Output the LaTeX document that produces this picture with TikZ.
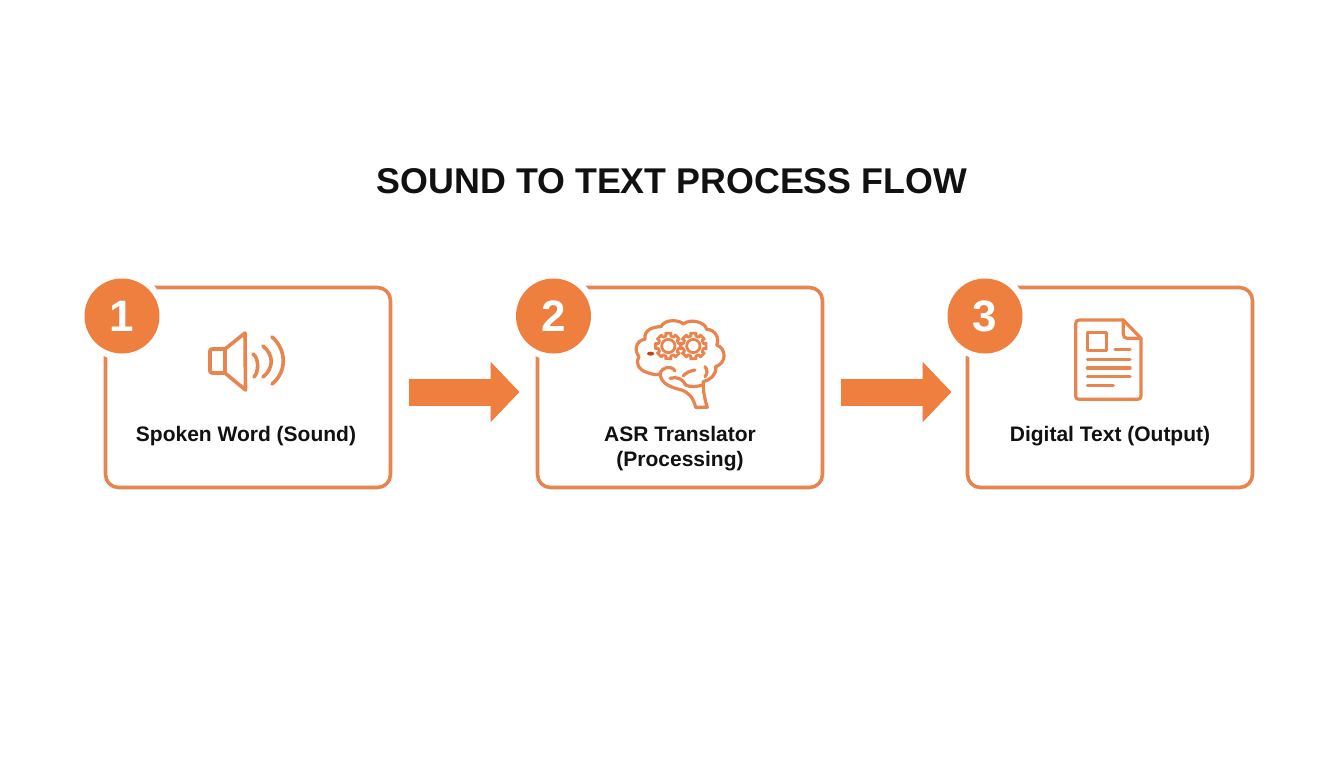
\documentclass[tikz,border=0pt]{standalone}
\usepackage{fontspec}
\setmainfont{Liberation Sans}
\usetikzlibrary{arrows.meta,positioning}
\definecolor{boxc}{HTML}{E6854F}
\definecolor{fillc}{HTML}{EE7F3E}
\definecolor{iconc}{HTML}{E8854F}
\definecolor{blot}{HTML}{B8471F}
\definecolor{inkc}{HTML}{111111}
\tikzset{
  card/.style={draw=boxc,line width=3.6pt,rounded corners=13pt,fill=white,minimum width=285pt,minimum height=200pt,inner sep=0pt,outer sep=0pt},
  ring/.style={circle,fill=white,minimum size=88pt,inner sep=0pt,outer sep=0pt},
  badge/.style={circle,fill=fillc,text=white,font=\bfseries\fontsize{44}{44}\selectfont,minimum size=75pt,inner sep=0pt,outer sep=0pt},
  label/.style={align=center,text=inkc,font=\bfseries\fontsize{21}{25}\selectfont,inner sep=0pt},
  icon/.style={draw=iconc,line width=3.6pt,line cap=round,line join=round},
  iconzoom/.style={draw=iconc,line width=3.2pt,line cap=round,line join=round},
  gearline/.style={draw=iconc,line width=2.8pt,line cap=round,line join=round},
  flow/.style={draw=fillc,line width=27pt,-{Triangle[length=29pt,width=59pt]},shorten <=18pt,shorten >=18pt}
}
\newcommand{\gearshape}[2]{%
  \begin{scope}[shift={(#1,#2)}]
  \draw[gearline] (-12:39) \foreach \i in {0,...,7}{ -- ({\i*45-12}:39) -- ({\i*45+12}:39) -- ({\i*45+13}:31) -- ({\i*45+32}:31)} -- cycle;
  \draw[gearline] (0,0) circle (20);
  \end{scope}}
\begin{document}
\begin{tikzpicture}[x=1pt,y=-1pt]
\useasboundingbox (0,0) rectangle (1344,768);
\fill[white] (0,0) rectangle (1344,768);
\node[text=inkc,font=\bfseries\fontsize{35.8}{36}\selectfont,inner sep=0pt] (title) at (672,181) {SOUND TO TEXT PROCESS FLOW};
\node[card] (box1) at (248,387.5) {};
\node[card] (box2) at (680,387.5) {};
\node[card] (box3) at (1110,387.5) {};
\node[ring] (ring1) at (122,316) {};
\node[ring] (ring2) at (553.5,316) {};
\node[ring] (ring3) at (985,316) {};
\node[badge] (num1) at (122,316) {1};
\node[badge] (num2) at (553.5,316) {2};
\node[badge] (num3) at (985,316) {3};
\node[label] (lab1) at (246,436) {Spoken Word (Sound)};
\node[label] (lab2) at (680,448.5) {ASR Translator\\(Processing)};
\node[label] (lab3) at (1110,436) {Digital Text (Output)};
\draw[flow] ([yshift=-4.5pt]box1.east) -- ([yshift=-4.5pt]box2.west);
\draw[flow,shorten >=16pt] ([yshift=-4.5pt]box2.east) -- ([yshift=-4.5pt]box3.west);
% speaker
\draw[icon] (225,349) -- (212,349) .. controls (210.5,349) and (210,350) .. (210,351) -- (210,371) .. controls (210,372.5) and (211,373) .. (212,373) -- (225,373);
\draw[icon] (225,349) -- (245,333) -- (245.5,390) -- (225,373) -- cycle;
\draw[icon] (253,354) .. controls (259,358) and (259,372) .. (254,377);
\draw[icon] (263,346) .. controls (274,355) and (274,368) .. (263,377);
\draw[icon] (272,337) .. controls (287,350) and (287,372) .. (272,384);
% brain
\begin{scope}[shift={(625,310)},scale=1/3]
\draw[iconzoom] (105,192) .. controls (90,196) and (78,192) .. (65,187)
  .. controls (40,180) and (30,155) .. (42,140)
  .. controls (25,120) and (35,90) .. (60,88)
  .. controls (55,60) and (85,50) .. (108,50)
  .. controls (120,25) and (165,30) .. (175,42)
  .. controls (195,25) and (240,35) .. (245,58)
  .. controls (270,58) and (285,85) .. (275,105)
  .. controls (305,115) and (305,160) .. (272,170)
  .. controls (275,195) and (255,210) .. (235,215)
  -- (235,225)
  .. controls (235,250) and (240,270) .. (247,292)
  -- (212,292)
  .. controls (205,265) and (195,250) .. (170,240)
  .. controls (140,232) and (110,225) .. (105,192);
\draw[iconzoom] (105,192) .. controls (110,170) and (140,165) .. (150,183);
\draw[iconzoom] (135,205) .. controls (155,198) and (175,208) .. (182,225);
\draw[iconzoom] (175,197) .. controls (185,187) and (195,183) .. (210,180);
\draw[iconzoom] (240,170) .. controls (248,180) and (248,190) .. (240,200);
\draw[iconzoom] (182,225) .. controls (195,232) and (215,230) .. (235,225);
\gearshape{130}{108}
\gearshape{205}{108}
\fill[blot] (77,131) ellipse [x radius=11,y radius=6];
\end{scope}
% document
\begin{scope}[shift={(1060,310)},scale=1/3]
\draw[iconzoom] (190,30) -- (58,30) .. controls (50,30) and (47,34) .. (47,42) -- (47,258) .. controls (47,265) and (50,268) .. (58,268) -- (232,268) .. controls (240,268) and (243,265) .. (243,258) -- (243,85) -- cycle;
\draw[iconzoom] (190,30) -- (190,72) .. controls (190,81) and (194,85) .. (202,85) -- (243,85);
\draw[iconzoom] (82,68) rectangle (140,122);
\draw[iconzoom] (165,118) -- (210,118);
\draw[iconzoom] (82,148) -- (210,148);
\draw[iconzoom] (82,174) -- (210,174);
\draw[iconzoom] (82,200) -- (210,200);
\draw[iconzoom] (82,226) -- (160,226);
\end{scope}
\end{tikzpicture}
\end{document}
